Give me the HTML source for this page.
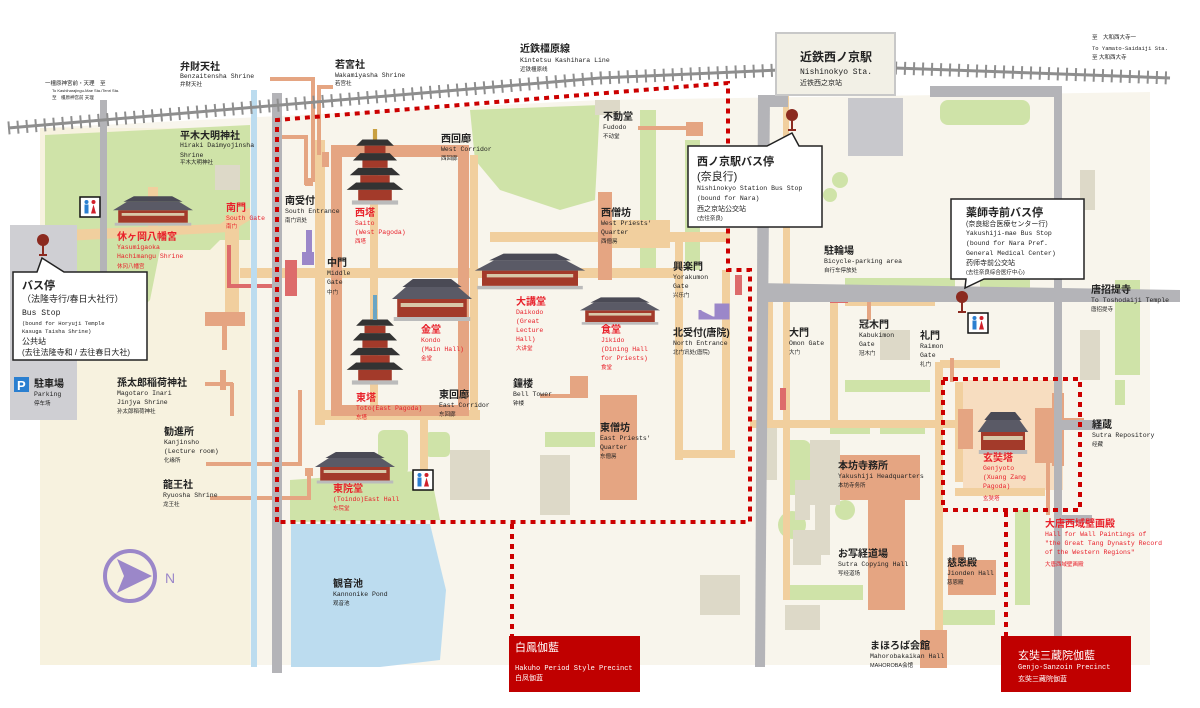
<!DOCTYPE html>
<html><head><meta charset="utf-8"><style>
html,body{margin:0;padding:0;background:#fff}
svg{display:block}
text{font-family:"Liberation Sans","Noto Sans CJK JP",sans-serif;fill:#222}
.j{font-size:10px;font-weight:bold}
.e{font-size:6.5px;font-family:"Liberation Mono","Noto Sans CJK JP",monospace}
.c{font-size:5.5px}
.r{fill:#e8202a}
.w{fill:#fff}
</style></head><body>
<svg width="1200" height="708" viewBox="0 0 1200 708" xmlns="http://www.w3.org/2000/svg">
<defs>
<g id="tr"><rect x="0" y="0" width="20" height="20" fill="#fff" stroke="#111" stroke-width="1.5"/><circle cx="6.5" cy="5" r="2" fill="#2a7fd0"/><rect x="4.5" y="7.5" width="4" height="9" fill="#2a7fd0"/><circle cx="13.5" cy="5" r="2" fill="#d0202a"/><path d="M11 16.5 L13.5 7.5 L16 16.5Z" fill="#d0202a"/></g>
<g id="pin"><circle cx="0" cy="0" r="6" fill="#8b2a1f"/><rect x="-1" y="5" width="2" height="10" fill="#8b2a1f"/><rect x="-4" y="14" width="8" height="2" fill="#8b2a1f"/></g>
<g id="hall"><rect x="-40" y="-4" width="80" height="18" fill="#a33a2a"/><rect x="-36" y="0" width="72" height="4" fill="#d8c8a8"/><path d="M-46 -4 L-30 -16 L30 -16 L46 -4Z" fill="#5a5a66"/><path d="M-34 -16 L-22 -24 L22 -24 L34 -16Z" fill="#4a4a55"/><rect x="-44" y="14" width="88" height="4" fill="#bbb"/></g>
<g id="pag"><rect x="-2" y="-60" width="4" height="10" fill="#c9a040"/><path d="M-12 -50 L12 -50 L18 -44 L-18 -44Z" fill="#333"/><rect x="-10" y="-44" width="20" height="7" fill="#a33a2a"/><path d="M-14 -37 L14 -37 L21 -30 L-21 -30Z" fill="#333"/><rect x="-12" y="-30" width="24" height="7" fill="#a33a2a"/><path d="M-16 -23 L16 -23 L24 -16 L-24 -16Z" fill="#333"/><rect x="-14" y="-16" width="28" height="7" fill="#a33a2a"/><path d="M-18 -9 L18 -9 L27 -2 L-27 -2Z" fill="#333"/><rect x="-16" y="-2" width="32" height="10" fill="#a33a2a"/><rect x="-22" y="8" width="44" height="4" fill="#bbb"/></g>
</defs>

<!-- base -->
<path d="M40 128 L600 100 L1150 92 L1150 665 L40 665Z" fill="#f8f5ec"/>
<rect x="40" y="128" width="210" height="537" fill="#f7f2df"/>
<!-- greens -->
<path d="M45 135 L250 125 L250 210 L210 250 L160 250 L150 300 L90 360 L45 360Z" fill="#cfe3a8"/>
<path d="M185 160 L250 150 L250 240 L185 240Z" fill="#cfe3a8"/>
<path d="M470 110 L600 105 L595 200 L560 210 L500 190 L475 160Z" fill="#cfe3a8"/>
<path d="M290 480 L430 470 L440 520 L290 522Z" fill="#cfe3a8"/>
<rect x="378" y="430" width="30" height="45" rx="6" fill="#cfe3a8"/>
<rect x="425" y="432" width="25" height="25" rx="5" fill="#cfe3a8"/>
<rect x="545" y="432" width="50" height="15" fill="#cfe3a8"/>
<rect x="640" y="110" width="16" height="160" fill="#cfe3a8"/>
<rect x="685" y="140" width="15" height="130" fill="#cfe3a8"/>
<rect x="940" y="100" width="90" height="25" rx="8" fill="#cfe3a8"/>
<rect x="845" y="278" width="110" height="12" fill="#cfe3a8"/>
<rect x="980" y="278" width="50" height="10" fill="#cfe3a8"/>
<rect x="845" y="380" width="85" height="12" fill="#cfe3a8"/>
<rect x="830" y="420" width="40" height="14" fill="#cfe3a8"/>
<rect x="880" y="420" width="45" height="14" fill="#cfe3a8"/>
<rect x="783" y="440" width="28" height="55" rx="8" fill="#cfe3a8"/>
<circle cx="792" cy="525" r="14" fill="#cfe3a8"/>
<circle cx="845" cy="510" r="10" fill="#cfe3a8"/>
<rect x="783" y="585" width="80" height="15" fill="#cfe3a8"/>
<rect x="940" y="610" width="55" height="15" fill="#cfe3a8"/>
<rect x="1015" y="510" width="15" height="95" fill="#cfe3a8"/>
<circle cx="840" cy="180" r="8" fill="#cfe3a8"/><circle cx="830" cy="195" r="7" fill="#cfe3a8"/>
<rect x="1115" y="280" width="25" height="95" fill="#cfe3a8"/>
<rect x="1115" y="380" width="10" height="25" fill="#cfe3a8"/>
<!-- grey buildings -->
<rect x="848" y="98" width="55" height="58" fill="#c8c8cc"/>
<rect x="215" y="165" width="25" height="25" fill="#ddd9c8"/>
<rect x="595" y="100" width="25" height="15" fill="#ddd9c8"/>
<rect x="450" y="450" width="40" height="50" fill="#ddd9c8"/>
<rect x="540" y="455" width="30" height="60" fill="#ddd9c8"/>
<rect x="810" y="440" width="30" height="65" fill="#ddd9c8"/>
<rect x="815" y="505" width="15" height="50" fill="#ddd9c8"/>
<rect x="795" y="480" width="15" height="40" fill="#ddd9c8"/>
<rect x="765" y="420" width="12" height="60" fill="#ddd9c8"/>
<rect x="793" y="530" width="28" height="35" fill="#ddd9c8"/>
<rect x="785" y="605" width="35" height="25" fill="#ddd9c8"/>
<rect x="700" y="575" width="40" height="40" fill="#ddd9c8"/>
<rect x="880" y="330" width="30" height="30" fill="#ddd9c8"/>
<rect x="1080" y="330" width="20" height="50" fill="#ddd9c8"/>
<rect x="1080" y="170" width="15" height="40" fill="#ddd9c8"/>
<!-- paths (tan) -->
<g fill="#f1cf9e">
<path d="M10 232 L220 224 L240 210 L250 208 L250 220 L230 232 L10 244Z"/>
<rect x="225" y="215" width="14" height="105"/>
<rect x="148" y="187" width="10" height="45"/>
<rect x="240" y="268" width="440" height="10"/>
<rect x="315" y="140" width="10" height="285"/>
<rect x="315" y="410" width="165" height="10"/>
<rect x="420" y="415" width="8" height="55"/>
<rect x="470" y="155" width="8" height="265"/>
<rect x="370" y="150" width="8" height="270"/>
<rect x="490" y="232" width="240" height="10"/>
<rect x="675" y="240" width="8" height="220"/>
<rect x="675" y="450" width="60" height="8"/>
<rect x="722" y="270" width="8" height="180"/>
<rect x="600" y="220" width="70" height="28"/>
<path d="M783 95 L789 95 L789 160 L800 190 L790 225 L790 600 L783 600 L783 225 L792 190 L783 160Z"/>
<rect x="750" y="420" width="205" height="8"/>
<rect x="935" y="362" width="8" height="270"/>
<rect x="940" y="360" width="60" height="8"/>
<rect x="963" y="380" width="100" height="110" fill="#f7ddc0"/>
<rect x="955" y="382" width="8" height="100"/>
<rect x="955" y="488" width="90" height="8"/>
<rect x="765" y="300" width="8" height="120"/>
<rect x="830" y="300" width="8" height="120"/>
<rect x="845" y="300" width="90" height="6"/>
</g>
<!-- corridor -->
<path d="M331 145 L469 145 L469 416 L331 416Z M342 157 L342 405 L458 405 L458 157Z" fill="#e5a582" fill-rule="evenodd"/>
<!-- salmon blocks -->
<g fill="#e5a582">
<rect x="570" y="376" width="18" height="22"/><rect x="540" y="394" width="45" height="4"/>
<rect x="598" y="192" width="14" height="88"/>
<rect x="600" y="395" width="37" height="105"/>
<rect x="686" y="122" width="17" height="14"/><rect x="638" y="126" width="48" height="4"/>
<rect x="322" y="152" width="7" height="15"/><rect x="270" y="77" width="42" height="4"/><rect x="311" y="77" width="4" height="105"/><rect x="305" y="178" width="8" height="8"/>
<rect x="317" y="85" width="4" height="70"/><rect x="321" y="85" width="12" height="4"/>
<rect x="278" y="135" width="30" height="4"/><rect x="304" y="135" width="4" height="50"/>
<rect x="840" y="455" width="80" height="45"/><rect x="868" y="495" width="37" height="115"/>
<rect x="948" y="560" width="48" height="35"/><rect x="952" y="545" width="12" height="20"/>
<rect x="920" y="630" width="27" height="38"/>
<rect x="958" y="409" width="15" height="40"/>
<rect x="1035" y="408" width="23" height="55"/>
<rect x="1052" y="393" width="8" height="20"/><rect x="1052" y="446" width="8" height="20"/><rect x="1060" y="393" width="4" height="73"/>
<rect x="1046" y="450" width="4" height="65"/>
<rect x="1064" y="418" width="20" height="3"/>
<rect x="205" y="312" width="40" height="14"/><rect x="222" y="325" width="5" height="25"/>
<rect x="220" y="370" width="6" height="20"/>
<rect x="206" y="462" width="96" height="4"/><rect x="298" y="390" width="4" height="75"/>
<rect x="210" y="496" width="100" height="4"/><rect x="307" y="472" width="4" height="28"/><rect x="305" y="468" width="8" height="8"/>
<rect x="230" y="383" width="4" height="33"/><rect x="205" y="382" width="28" height="4"/>
<rect x="867" y="296" width="4" height="24"/><rect x="835" y="296" width="32" height="4"/>
<rect x="950" y="358" width="4" height="24"/>
</g>
<rect x="227" y="245" width="4" height="42" fill="#dd6b6b"/>
<rect x="227" y="284" width="55" height="4" fill="#dd6b6b"/>
<rect x="285" y="260" width="12" height="36" fill="#dd6b6b"/>
<rect x="735" y="275" width="7" height="20" fill="#dd6b6b"/>
<rect x="830" y="296" width="18" height="7" fill="#dd6b6b"/>
<rect x="780" y="388" width="6" height="22" fill="#dd6b6b"/>
<rect x="306" y="230" width="6" height="30" fill="#9b87c9"/><rect x="302" y="252" width="12" height="13" fill="#9b87c9"/>
<path d="M700 310 L700 318 L716 318 L716 305 L728 305 L728 318 L716 318" fill="#9b87c9" stroke="#9b87c9" stroke-width="3"/>
<!-- pond -->
<path d="M291 524 L430 524 L446 590 L440 660 L380 667 L291 667Z" fill="#bcdcef"/>
<!-- canal & roads -->
<rect x="251" y="90" width="6" height="577" fill="#bcdcef"/>
<rect x="272" y="93" width="10" height="580" fill="#b4b4b8"/>
<rect x="100" y="100" width="7" height="190" fill="#b4b4b8"/>
<rect x="10" y="225" width="67" height="195" fill="#cfcfd3"/>
<path d="M758 95 L770 95 L765 667 L755 667Z" fill="#b4b4b8"/>
<rect x="758" y="95" width="30" height="12" fill="#b4b4b8"/>
<path d="M758 283 L1180 290 L1180 302 L758 302Z" fill="#b4b4b8"/>
<path d="M930 86 L1062 86 L1062 667 L1054 667 L1054 97 L930 97Z" fill="#b4b4b8"/>
<rect x="1062" y="420" width="40" height="10" fill="#b4b4b8"/>
<rect x="1062" y="515" width="30" height="8" fill="#b4b4b8"/>
<!-- railway -->
<g stroke="#8e8e8e" fill="none">
<path d="M8 128 L600 78 L780 70" stroke-width="3"/>
<path d="M895 68 L1170 78" stroke-width="3"/>
<path d="M8 128 L600 78 L780 70" stroke-width="13" stroke-dasharray="2 7"/>
<path d="M895 68 L1170 78" stroke-width="13" stroke-dasharray="2 7"/>
</g>
<!-- dotted boundaries -->
<g fill="none" stroke="#cc0000" stroke-width="4" stroke-dasharray="5 5">
<path d="M277 522 L277 120 L728 83 L728 270 L750 270 L750 522 Z"/>
<path d="M512 524 L512 636"/>
<path d="M943 379 L1080 379 L1080 510 L943 510 Z"/>
<path d="M1006 512 L1006 636"/>
</g>
<!-- station -->
<rect x="776" y="33" width="119" height="62" fill="#f2f0e6" stroke="#c8c8c8" stroke-width="2"/>
<text x="800" y="61" class="j" style="font-size:12px">近鉄西ノ京駅</text>
<text x="800" y="74" class="e" style="font-size:8px">Nishinokyo Sta.</text>
<text x="800" y="85" class="c" style="font-size:7px">近铁西之京站</text>
<!-- buildings -->
<use href="#pag" transform="translate(375,192) scale(1.05)"/>
<use href="#pag" transform="translate(375,372) scale(1.05)"/>
<rect x="373" y="295" width="4" height="25" fill="#6aa5c4"/>
<use href="#hall" transform="translate(432,303) scale(0.87,1)"/>
<use href="#hall" transform="translate(530,274) scale(1.2,0.85)"/>
<use href="#hall" transform="translate(620,313) scale(0.87,0.65)"/>
<use href="#hall" transform="translate(355,470) scale(0.87,0.75)"/>
<use href="#hall" transform="translate(153,213) scale(0.87,0.7)"/>
<use href="#hall" transform="translate(1003,436) scale(0.55,1)"/>
<!-- toilets -->
<use href="#tr" x="80" y="197"/>
<use href="#tr" x="413" y="470"/>
<use href="#tr" x="968" y="313"/>
<!-- pins & callouts -->
<use href="#pin" x="43" y="240"/>
<path d="M13 272 L37 272 L42 258 L64 272 L147 272 L147 360 L13 360Z" fill="#fff" stroke="#222" stroke-width="1.5"/>
<text x="22" y="289" class="j" style="font-size:11px">バス停</text>
<text x="22" y="302" class="c" style="font-size:9px">（法隆寺行/春日大社行）</text>
<text x="22" y="315" class="e" style="font-size:8px">Bus Stop</text>
<text x="22" y="325" class="e" style="font-size:5.5px">(bound for Horyuji Temple</text>
<text x="22" y="333" class="e" style="font-size:5.5px">Kasuga Taisha Shrine)</text>
<text x="22" y="344" class="c" style="font-size:8px">公共站</text>
<text x="22" y="355" class="c" style="font-size:8px">(去往法隆寺和 / 去往春日大社)</text>
<use href="#pin" x="792" y="115"/>
<path d="M688 146 L767 146 L792 133 L799 146 L822 146 L822 227 L688 227Z" fill="#fff" stroke="#222" stroke-width="1.5"/>
<text x="697" y="165" class="j" style="font-size:11px">西ノ京駅バス停</text>
<text x="697" y="180" class="j" style="font-size:11px;font-weight:normal">(奈良行)</text>
<text x="697" y="190" class="e">Nishinokyo Station Bus Stop</text>
<text x="697" y="200" class="e">(bound for Nara)</text>
<text x="697" y="211" class="c" style="font-size:7px">西之京站公交站</text>
<text x="697" y="220" class="c">(去往奈良)</text>
<use href="#pin" x="962" y="297"/>
<path d="M951 199 L1084 199 L1084 279 L984 279 L965 288 L966 279 L951 279Z" fill="#fff" stroke="#222" stroke-width="1.5"/>
<text x="966" y="216" class="j" style="font-size:11px">薬師寺前バス停</text>
<text x="966" y="226" class="c" style="font-size:7px">(奈良総合医療センター行)</text>
<text x="966" y="235" class="e">Yakushiji-mae Bus Stop</text>
<text x="966" y="245" class="e">(bound for Nara Pref.</text>
<text x="966" y="255" class="e">General Medical Center)</text>
<text x="966" y="265" class="c" style="font-size:7px">药师寺前公交站</text>
<text x="966" y="274" class="c">(去往奈良综合医疗中心)</text>
<!-- parking -->
<rect x="14" y="377" width="15" height="15" fill="#2a7fd0"/><text x="17" y="390" class="w" style="font-size:13px;font-weight:bold;fill:#fff">P</text>
<text x="34" y="387" class="j">駐車場</text><text x="34" y="396" class="e">Parking</text><text x="34" y="405" class="c">停车场</text>
<!-- compass -->
<circle cx="130" cy="576" r="25" fill="none" stroke="#9b87c9" stroke-width="4"/>
<path d="M117 559 L152 576 L117 593 L124 576Z" fill="#9b87c9"/>
<text x="165" y="583" style="font-size:14px;fill:#9b87c9">N</text>
<!-- red precinct boxes -->
<rect x="509" y="636" width="131" height="56" fill="#c00000"/>
<text x="515" y="651" class="w" style="font-size:11px;fill:#fff">白鳳伽藍</text>
<text x="515" y="670" class="e" style="fill:#fff;font-size:7px">Hakuho Period Style Precinct</text>
<text x="515" y="680" class="c" style="fill:#fff;font-size:7px">白凤伽蓝</text>
<rect x="1001" y="636" width="130" height="56" fill="#c00000"/>
<text x="1018" y="659" class="w" style="font-size:11px;fill:#fff">玄奘三蔵院伽藍</text>
<text x="1018" y="669" class="e" style="fill:#fff;font-size:7px">Genjo-Sanzoin Precinct</text>
<text x="1018" y="681" class="c" style="fill:#fff;font-size:7px">玄奘三藏院伽蓝</text>
<!-- labels -->
<g>
<text x="45" y="85" class="c">一橿原神宮前・天理　至</text><text x="52" y="92" class="c" style="font-size:4px">To Kashiharajingu-Mae Sta./Tenri Sta.</text><text x="52" y="99" class="c" style="font-size:4.5px">至　橿原神宫前 天理</text>
<text x="180" y="70" class="j">弁財天社</text><text x="180" y="78" class="e">Benzaitensha Shrine</text><text x="180" y="86" class="c">弁财天社</text>
<text x="335" y="68" class="j">若宮社</text><text x="335" y="77" class="e">Wakamiyasha Shrine</text><text x="335" y="85" class="c">若宫社</text>
<text x="520" y="52" class="j">近鉄橿原線</text><text x="520" y="62" class="e">Kintetsu Kashihara Line</text><text x="520" y="71" class="c">近铁橿原线</text>
<text x="1092" y="39" class="c">至　大和西大寺一</text><text x="1092" y="50" class="e" style="font-size:5.5px">To Yamato-Saidaiji Sta.</text><text x="1092" y="59" class="c">至 大和西大寺</text>
<text x="180" y="139" class="j">平木大明神社</text><text x="180" y="147" class="e">Hiraki Daimyojinsha</text><text x="180" y="157" class="e">Shrine</text><text x="180" y="164" class="c">平木大明神社</text>
<text x="117" y="240" class="j r">休ヶ岡八幡宮</text><text x="117" y="249" class="e r">Yasumigaoka</text><text x="117" y="258" class="e r">Hachimangu Shrine</text><text x="117" y="268" class="c r">休冈八幡宫</text>
<text x="226" y="211" class="j r">南門</text><text x="226" y="220" class="e r">South Gate</text><text x="226" y="228" class="c r">南门</text>
<text x="285" y="204" class="j">南受付</text><text x="285" y="213" class="e">South Entrance</text><text x="285" y="222" class="c">南门讯处</text>
<text x="355" y="216" class="j r">西塔</text><text x="355" y="225" class="e r">Saito</text><text x="355" y="234" class="e r">(West Pagoda)</text><text x="355" y="243" class="c r">西塔</text>
<text x="327" y="266" class="j">中門</text><text x="327" y="275" class="e">Middle</text><text x="327" y="284" class="e">Gate</text><text x="327" y="294" class="c">中门</text>
<text x="441" y="142" class="j">西回廊</text><text x="441" y="151" class="e">West Corridor</text><text x="441" y="160" class="c">西回廊</text>
<text x="421" y="333" class="j r">金堂</text><text x="421" y="342" class="e r">Kondo</text><text x="421" y="351" class="e r">(Main Hall)</text><text x="421" y="360" class="c r">金堂</text>
<text x="516" y="305" class="j r">大講堂</text><text x="516" y="314" class="e r">Daikodo</text><text x="516" y="323" class="e r">(Great</text><text x="516" y="332" class="e r">Lecture</text><text x="516" y="341" class="e r">Hall)</text><text x="516" y="350" class="c r">大讲堂</text>
<text x="601" y="333" class="j r">食堂</text><text x="601" y="342" class="e r">Jikido</text><text x="601" y="351" class="e r">(Dining Hall</text><text x="601" y="360" class="e r">for Priests)</text><text x="601" y="369" class="c r">食堂</text>
<text x="603" y="120" class="j">不動堂</text><text x="603" y="129" class="e">Fudodo</text><text x="603" y="138" class="c">不动堂</text>
<text x="601" y="216" class="j">西僧坊</text><text x="601" y="225" class="e">West Priests'</text><text x="601" y="234" class="e">Quarter</text><text x="601" y="243" class="c">西僧房</text>
<text x="673" y="270" class="j">興楽門</text><text x="673" y="279" class="e">Yorakumon</text><text x="673" y="288" class="e">Gate</text><text x="673" y="297" class="c">兴乐门</text>
<text x="673" y="336" class="j">北受付(唐院)</text><text x="673" y="345" class="e">North Entrance</text><text x="673" y="354" class="c">北门讯处(唐院)</text>
<text x="513" y="387" class="j">鐘楼</text><text x="513" y="396" class="e">Bell Tower</text><text x="513" y="405" class="c">钟楼</text>
<text x="439" y="398" class="j">東回廊</text><text x="439" y="407" class="e">East Corridor</text><text x="439" y="416" class="c">东回廊</text>
<text x="356" y="401" class="j r">東塔</text><text x="356" y="410" class="e r">Toto(East Pagoda)</text><text x="356" y="419" class="c r">东塔</text>
<text x="600" y="431" class="j">東僧坊</text><text x="600" y="440" class="e">East Priests'</text><text x="600" y="449" class="e">Quarter</text><text x="600" y="458" class="c">东僧房</text>
<text x="333" y="492" class="j r">東院堂</text><text x="333" y="501" class="e r">(Toindo)East Hall</text><text x="333" y="510" class="c r">东院堂</text>
<text x="333" y="587" class="j">観音池</text><text x="333" y="596" class="e">Kannonike Pond</text><text x="333" y="605" class="c">观音池</text>
<text x="117" y="386" class="j">孫太郎稲荷神社</text><text x="117" y="395" class="e">Magotaro Inari</text><text x="117" y="404" class="e">Jinjya Shrine</text><text x="117" y="413" class="c">孙太郎稻荷神社</text>
<text x="164" y="435" class="j">勧進所</text><text x="164" y="444" class="e">Kanjinsho</text><text x="164" y="453" class="e">(Lecture room)</text><text x="164" y="462" class="c">化缘所</text>
<text x="163" y="488" class="j">龍王社</text><text x="163" y="497" class="e">Ryuosha Shrine</text><text x="163" y="506" class="c">龙王社</text>
<text x="824" y="254" class="j">駐輪場</text><text x="824" y="263" class="e">Bicycle-parking area</text><text x="824" y="272" class="c">自行车停放处</text>
<text x="789" y="336" class="j">大門</text><text x="789" y="345" class="e">Omon Gate</text><text x="789" y="354" class="c">大门</text>
<text x="859" y="328" class="j">冠木門</text><text x="859" y="337" class="e">Kabukimon</text><text x="859" y="346" class="e">Gate</text><text x="859" y="355" class="c">冠木门</text>
<text x="920" y="339" class="j">礼門</text><text x="920" y="348" class="e">Raimon</text><text x="920" y="357" class="e">Gate</text><text x="920" y="366" class="c">礼门</text>
<text x="1091" y="293" class="j">唐招提寺</text><text x="1091" y="302" class="e">To Toshodaiji Temple</text><text x="1091" y="311" class="c">唐招提寺</text>
<text x="1092" y="428" class="j">経蔵</text><text x="1092" y="437" class="e">Sutra Repository</text><text x="1092" y="446" class="c">经藏</text>
<text x="983" y="461" class="j r">玄奘塔</text><text x="983" y="470" class="e r">Genjyoto</text><text x="983" y="479" class="e r">(Xuang Zang</text><text x="983" y="488" class="e r">Pagoda)</text><text x="983" y="500" class="c r">玄奘塔</text>
<text x="1045" y="527" class="j r">大唐西域壁画殿</text><text x="1045" y="536" class="e r">Hall for Wall Paintings of</text><text x="1045" y="545" class="e r">"the Great Tang Dynasty Record</text><text x="1045" y="554" class="e r">of the Western Regions"</text><text x="1045" y="566" class="c r">大唐西域壁画殿</text>
<text x="838" y="469" class="j">本坊寺務所</text><text x="838" y="478" class="e">Yakushiji Headquarters</text><text x="838" y="487" class="c">本坊寺务所</text>
<text x="838" y="557" class="j">お写経道場</text><text x="838" y="566" class="e">Sutra Copying Hall</text><text x="838" y="575" class="c">写经道场</text>
<text x="947" y="566" class="j">慈恩殿</text><text x="947" y="575" class="e">Jionden Hall</text><text x="947" y="584" class="c">慈恩殿</text>
<text x="870" y="649" class="j">まほろば会館</text><text x="870" y="658" class="e">Mahorobakaikan Hall</text><text x="870" y="667" class="c">MAHOROBA会馆</text>
</g>
</svg>
</body></html>
